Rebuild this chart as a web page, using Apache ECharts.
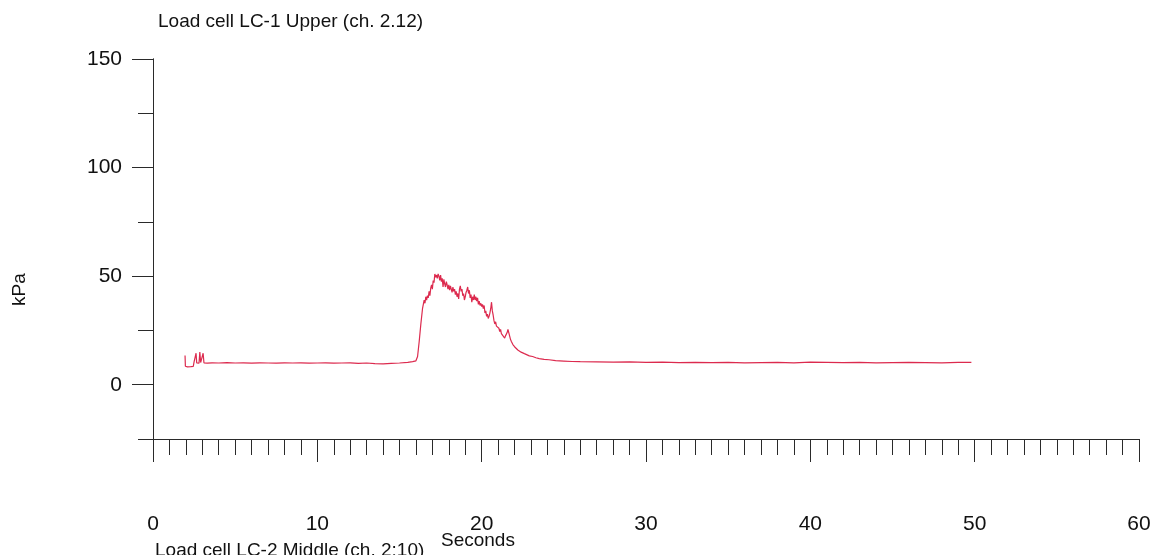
<!DOCTYPE html>
<html>
<head>
<meta charset="utf-8">
<script src="https://cdn.jsdelivr.net/npm/echarts@6/dist/echarts.min.js"></script>
<style>
html,body{margin:0;padding:0;background:#fff;}
#chart{width:1165px;height:555px;}
</style>
</head>
<body>
<div id="chart"></div>
<script>
// ---- data ----
const titleText = 'Load cell LC-1 Upper (ch. 2.12)';
const nextTitleText = 'Load cell LC-2 Middle (ch. 2:10)';
const xName = 'Seconds';
const yName = 'kPa';
const yMajorTicks = [0, 50, 100, 150];
const yMinorTicks = [-25, 25, 75, 125];
const seconds = [
  1.95, 1.97, 2.1, 2.3, 2.45, 2.5, 2.55, 2.62, 2.66, 2.72, 2.8, 2.85, 2.9, 3.0, 3.05, 3.1, 3.3, 3.6,
  4.0, 4.5, 5.0, 5.5, 6.0, 6.5, 7.0, 7.5, 8.0, 8.5, 9.0, 9.5, 10.0, 10.5, 11.0, 11.5, 12.0, 12.5,
  13.0, 13.5, 14.0, 14.5, 15.0, 15.5, 15.8, 16.0, 16.1, 16.2, 16.3, 16.4, 16.5, 16.55, 16.6, 16.65, 16.7,
  16.75, 16.8, 16.85, 16.9, 16.95, 17.0, 17.05, 17.1, 17.15, 17.2, 17.25, 17.3, 17.35, 17.4, 17.45, 17.5,
  17.55, 17.6, 17.65, 17.7, 17.75, 17.8, 17.85, 17.9, 17.95, 18.0, 18.05, 18.1, 18.15, 18.2, 18.25, 18.3,
  18.35, 18.4, 18.45, 18.5, 18.55, 18.6, 18.65, 18.7, 18.75, 18.8, 18.85, 18.9, 18.95, 19.0, 19.05, 19.1,
  19.15, 19.2, 19.25, 19.3, 19.35, 19.4, 19.45, 19.5, 19.55, 19.6, 19.65, 19.7, 19.75, 19.8, 19.85, 19.9,
  19.95, 20.0, 20.05, 20.1, 20.15, 20.2, 20.25, 20.3, 20.35, 20.4, 20.45, 20.5, 20.55, 20.6, 20.65, 20.7,
  20.75, 20.8, 20.85, 20.9, 20.95, 21.0, 21.05, 21.1, 21.15, 21.2, 21.25, 21.3, 21.35, 21.4, 21.45, 21.5,
  21.55, 21.6, 21.65, 21.7, 21.75, 21.8, 21.85, 21.9, 22.0, 22.1, 22.2, 22.3, 22.4, 22.5, 22.6, 22.7,
  22.9, 23.1, 23.3, 23.5, 23.8, 24.1, 24.5, 25.0, 25.5, 26.0, 27.0, 28.0, 29.0, 30.0, 31.0, 32.0, 33.0,
  34.0, 35.0, 36.0, 37.0, 38.0, 39.0, 40.0, 41.0, 42.0, 43.0, 44.0, 45.0, 46.0, 47.0, 48.0, 49.0, 49.8
];
const kPa = [
  13.5, 8.5, 8.2, 8.3, 8.4, 10.5, 9.8, 14.5, 10.0, 9.8, 9.9, 15.0, 10.2, 9.9, 14.5, 10.1, 9.9, 10.1,
  10.0, 10.2, 10.0, 10.1, 9.9, 10.1, 10.0, 9.9, 10.1, 10.0, 10.1, 9.9, 10.0, 10.1, 9.9, 10.0, 10.1, 9.8,
  10.0, 9.7, 9.6, 9.8, 10.0, 10.3, 10.6, 11.0, 13.0, 20.0, 28.0, 35.0, 39.0, 37.5, 40.5, 39.0, 41.0,
  40.0, 43.0, 41.0, 44.5, 46.0, 44.0, 48.0, 47.0, 51.0, 49.5, 50.5, 49.0, 51.0, 50.0, 48.0, 50.5,
  47.5, 49.0, 45.0, 48.5, 46.5, 45.0, 47.5, 46.0, 44.0, 46.0, 43.5, 45.5, 44.0, 42.5, 45.0, 43.0,
  44.0, 41.5, 43.0, 40.5, 42.0, 39.5, 44.0, 45.5, 43.0, 44.0, 41.0, 42.0, 39.0, 40.5, 42.5, 43.5,
  45.0, 42.0, 43.5, 40.0, 41.5, 38.0, 40.5, 39.0, 41.5, 39.0, 40.5, 38.5, 40.0, 37.0, 38.5, 36.5,
  37.5, 36.0, 37.0, 35.0, 36.5, 33.0, 34.0, 31.5, 32.5, 30.5, 31.5, 33.0, 35.0, 38.0, 34.0, 32.0,
  29.5, 28.0, 29.0, 27.0, 27.5, 26.5, 26.0, 24.5, 25.5, 23.5, 24.0, 22.5, 23.0, 21.5, 22.5, 22.0,
  24.0, 25.5, 24.0, 22.5, 21.0, 20.0, 19.5, 18.5, 17.5, 17.0, 16.0, 15.5, 15.0, 14.5, 14.3, 14.0,
  13.3, 13.0, 12.4, 12.0, 11.7, 11.5, 11.1, 10.9, 10.7, 10.6, 10.5, 10.4, 10.5, 10.3, 10.4, 10.2, 10.3,
  10.2, 10.3, 10.1, 10.2, 10.3, 10.1, 10.4, 10.3, 10.2, 10.3, 10.1, 10.2, 10.3, 10.2, 10.1, 10.3, 10.3
];

const fontFamily = '"Liberation Sans", Arial, sans-serif';
const axisColor = '#2a2a2a';
const textColor = '#111';

const chart = echarts.init(document.getElementById('chart'));
const yBase = {
  type: 'value', position: 'left', min: -25, max: 150, interval: 25,
  axisLine: { show: true, onZero: false, lineStyle: { color: axisColor, width: 1 } },
  splitLine: { show: false }
};
chart.setOption({
  animation: false,
  backgroundColor: '#fff',
  title: {
    text: titleText, left: 153, top: 7,
    textStyle: { fontFamily, fontSize: 19, fontWeight: 'normal', color: textColor }
  },
  grid: { left: 153, right: 26, top: 59, bottom: 116, containLabel: false },
  xAxis: {
    type: 'value', min: 0, max: 60, interval: 10,
    axisLine: { show: true, onZero: false, lineStyle: { color: axisColor, width: 1 } },
    axisTick: { show: true, inside: false, length: 23, lineStyle: { color: axisColor, width: 1 } },
    minorTick: { show: true, splitNumber: 10, length: 16, lineStyle: { color: axisColor, width: 1 } },
    axisLabel: { margin: 75, fontFamily, fontSize: 21, color: textColor },
    splitLine: { show: false }
  },
  yAxis: [
    Object.assign({}, yBase, {
      axisTick: { show: true, length: 21, customValues: yMajorTicks, lineStyle: { color: axisColor, width: 1 } },
      axisLabel: { show: true, customValues: yMajorTicks, margin: 31, fontFamily, fontSize: 21, color: textColor }
    }),
    Object.assign({}, yBase, {
      axisTick: { show: true, length: 15, customValues: yMinorTicks, lineStyle: { color: axisColor, width: 1 } },
      axisLabel: { show: false }
    })
  ],
  graphic: [
    { type: 'text', left: 441, top: 531, style: { text: xName, font: '19px ' + fontFamily, fill: textColor } },
    { type: 'text', x: 10, y: 306, rotation: Math.PI / 2, style: { text: yName, font: '19px ' + fontFamily, fill: textColor } },
    { type: 'text', left: 155, top: 541, style: { text: nextTitleText, font: '19px ' + fontFamily, fill: textColor } }
  ],
  series: [{
    type: 'line',
    yAxisIndex: 0,
    data: seconds.map((t, i) => [t, kPa[i]]),
    showSymbol: false,
    lineStyle: { color: '#dc2a4e', width: 1.2 },
    silent: true
  }]
});
</script>
</body>
</html>
